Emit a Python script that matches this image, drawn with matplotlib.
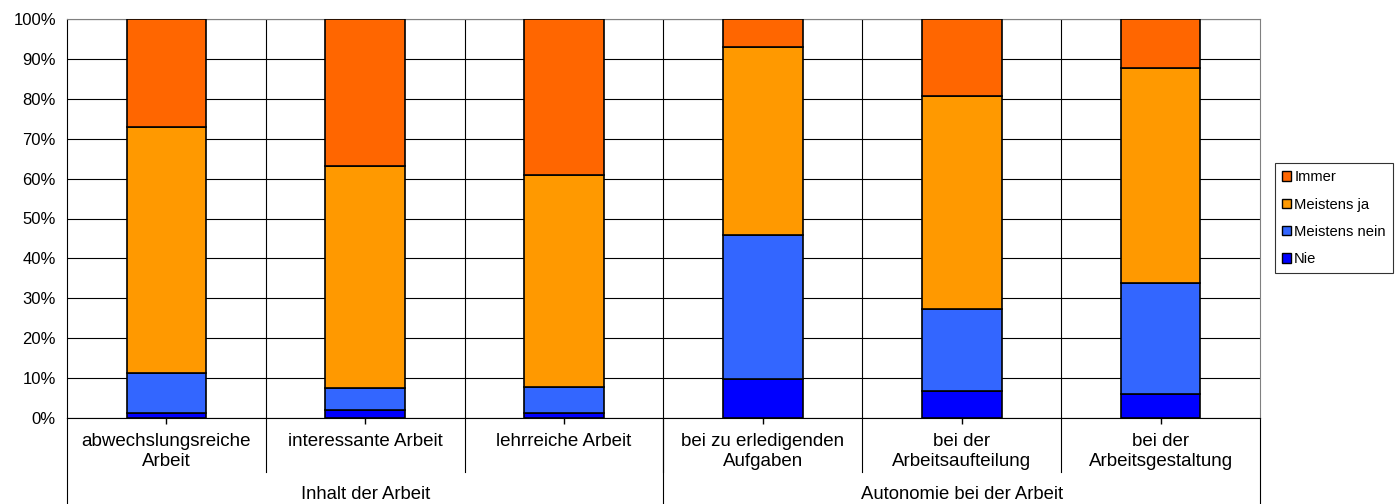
import matplotlib.pyplot as plt
import numpy as np
from matplotlib.patches import Patch

plt.rcParams['font.family'] = ['Liberation Sans', 'DejaVu Sans']

categories = ['abwechslungsreiche\nArbeit', 'interessante Arbeit', 'lehrreiche Arbeit',
              'bei zu erledigenden\nAufgaben', 'bei der\nArbeitsaufteilung', 'bei der\nArbeitsgestaltung']
groups = ['Inhalt der Arbeit', 'Autonomie bei der Arbeit']
group_size = [3, 3]

# Anteile in Prozent
nie = [1.2, 2.0, 1.3, 9.8, 6.8, 6.1]
meistens_nein = [10.2, 5.5, 6.5, 36.1, 20.5, 27.7]
meistens_ja = [61.5, 55.7, 53.1, 47.1, 53.4, 53.9]
immer = [27.1, 36.8, 39.1, 7.0, 19.3, 12.3]

series = [('Nie', nie, '#0000FF'),
          ('Meistens nein', meistens_nein, '#3366FF'),
          ('Meistens ja', meistens_ja, '#FF9900'),
          ('Immer', immer, '#FF6600')]

W, H = 1398, 504
fig = plt.figure(figsize=(W / 100, H / 100), dpi=100)
ax = fig.add_axes([67 / W, 1 - 418 / H, (1260 - 67) / W, (418 - 19) / H])

x = np.arange(len(categories))
bottom = np.zeros(len(categories))
for name, vals, col in series:
    ax.bar(x, vals, 0.4, bottom=bottom, color=col, edgecolor='black', linewidth=1.2, zorder=3, label=name)
    bottom += np.array(vals)

ax.set_xlim(-0.5, len(categories) - 0.5)
ax.set_ylim(0, 100)
ax.set_yticks(np.arange(0, 101, 10))
ax.set_yticklabels([f'{v}%' for v in range(0, 101, 10)], fontsize=12)
ax.tick_params(axis='y', length=0, pad=8)
ax.set_xticks(x)
ax.set_xticklabels([])
ax.tick_params(axis='x', direction='inout', length=8, width=1)
ax.yaxis.grid(True, color='black', linewidth=0.8, zorder=0)
for b in np.arange(0.5, len(categories) - 0.5, 1):
    ax.axvline(b, color='black', linewidth=0.8, zorder=0)

for s in ['top', 'right']:
    ax.spines[s].set_color('#808080')
ax.spines['left'].set_color('black')
ax.spines['bottom'].set_color('black')

# zweistufige Achsenbeschriftung
tr = ax.get_xaxis_transform()
for i, lab in enumerate(categories):
    ax.text(i, -0.038, lab, transform=tr, ha='center', va='top', fontsize=13.5, linespacing=1.22)
for b in np.arange(0.5, len(categories) - 0.5, 1):
    ax.plot([b, b], [0, -0.135], transform=tr, color='black', linewidth=0.8, clip_on=False)

start = -0.5
for g, n in zip(groups, group_size):
    ax.plot([start, start], [0, -0.23], transform=tr, color='black', linewidth=0.8, clip_on=False)
    ax.text(start + n / 2, -0.192, g, transform=tr, ha='center', va='center', fontsize=13.3)
    start += n
ax.plot([start, start], [0, -0.23], transform=tr, color='black', linewidth=0.8, clip_on=False)

handles = [Patch(facecolor=col, edgecolor='black', linewidth=1, label=name) for name, _, col in reversed(series)]
leg = fig.legend(handles=handles, loc='upper left', bbox_to_anchor=(1275 / W, 1 - 163 / H),
                 fontsize=10.6, frameon=True, fancybox=False, edgecolor='black',
                 handlelength=0.6, handleheight=0.6, handletextpad=0.2, labelspacing=0.9,
                 borderpad=0.5, borderaxespad=0)
leg.get_frame().set_linewidth(0.8)

fig.savefig('out.png', dpi=100)
